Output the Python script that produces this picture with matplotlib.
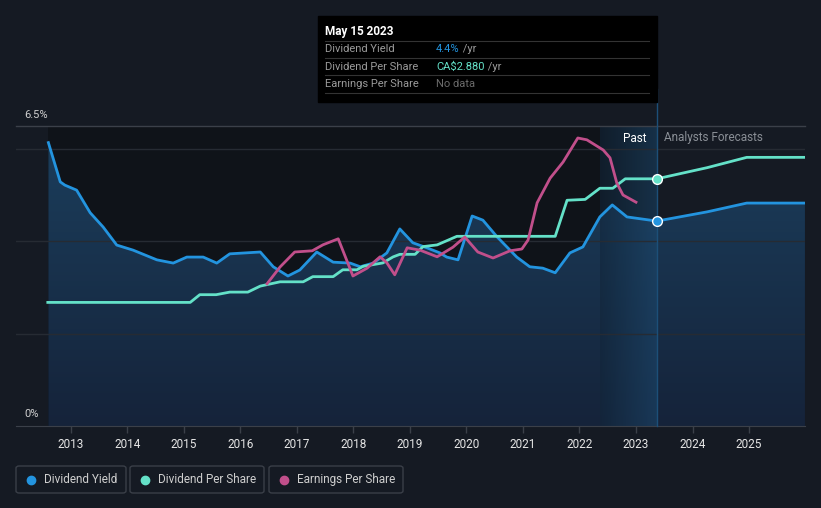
import numpy as np
import matplotlib
matplotlib.use("Agg")
import matplotlib.pyplot as plt
from matplotlib.colors import LinearSegmentedColormap
from matplotlib.patches import Rectangle, FancyBboxPatch
from matplotlib.lines import Line2D

plt.rcParams['font.family'] = ['Roboto', 'DejaVu Sans']

# dividend yield (%), decimal years
dy_year = [2012.60, 2012.81, 2012.89, 2013.10, 2013.34, 2013.57, 2013.81, 2014.10, 2014.52,
           2014.81, 2015.05, 2015.34, 2015.58, 2015.81, 2016.35, 2016.58, 2016.84, 2017.05,
           2017.35, 2017.64, 2017.94, 2018.12, 2018.35, 2018.59, 2018.82, 2019.05, 2019.30,
           2019.53, 2019.65, 2019.85, 2020.10, 2020.29, 2020.54, 2020.89, 2021.12, 2021.35,
           2021.57, 2021.83, 2022.06, 2022.36, 2022.58, 2022.84, 2023.37, 2024.26, 2024.96,
           2025.99]
dy_val = [6.14, 5.29, 5.22, 5.11, 4.62, 4.31, 3.92, 3.81, 3.60,
          3.53, 3.66, 3.66, 3.53, 3.73, 3.77, 3.45, 3.25, 3.38,
          3.77, 3.55, 3.53, 3.45, 3.53, 3.75, 4.27, 3.97, 3.86,
          3.75, 3.66, 3.60, 4.55, 4.46, 4.10, 3.66, 3.45, 3.42,
          3.32, 3.75, 3.88, 4.53, 4.79, 4.53, 4.44, 4.64, 4.83,
          4.83]

# dividend per share (CA$)
dps_year = [2012.59, 2015.11, 2015.28, 2015.57, 2015.81, 2016.13, 2016.35, 2016.70, 2017.11,
            2017.28, 2017.64, 2017.81, 2018.06, 2018.17, 2018.52, 2018.70, 2018.82, 2019.09,
            2019.23, 2019.48, 2019.83, 2021.57, 2021.78, 2022.10, 2022.36, 2022.59, 2022.81,
            2023.37, 2024.26, 2024.96, 2025.99]
dps_val = [1.44, 1.44, 1.53, 1.53, 1.56, 1.56, 1.63, 1.68, 1.68,
           1.74, 1.74, 1.82, 1.82, 1.86, 1.90, 1.97, 2.00, 2.00,
           2.09, 2.11, 2.21, 2.21, 2.63, 2.64, 2.77, 2.77, 2.88,
           2.88, 3.01, 3.13, 3.13]

# earnings per share (CA$)
eps_year = [2016.47, 2016.70, 2016.96, 2017.27, 2017.46, 2017.73, 2017.99, 2018.24, 2018.47,
            2018.59, 2018.73, 2018.95, 2019.18, 2019.48, 2019.76, 2019.97, 2020.20, 2020.47,
            2020.77, 2020.98, 2021.09, 2021.25, 2021.48, 2021.71, 2021.97, 2022.13, 2022.42,
            2022.54, 2022.66, 2022.77, 2023.00]
eps_val = [2.37, 2.65, 2.90, 2.92, 3.02, 3.12, 2.50, 2.63, 2.82,
           2.72, 2.52, 2.97, 2.93, 2.82, 2.98, 3.15, 2.90, 2.80,
           2.92, 2.95, 3.10, 3.72, 4.13, 4.40, 4.80, 4.77, 4.60,
           4.47, 4.05, 3.85, 3.73]

years = list(range(2013, 2026))
now = 2023.37
past_start = 2022.36

BG = '#151a23'
BLUE = '#2394df'
TEAL = '#64e1c8'
PINK = '#c14f8b'

fig = plt.figure(figsize=(8.21, 5.08), dpi=100, facecolor=BG)
ax = fig.add_axes([16 / 821, 1 - 426 / 508, 789 / 821, 300 / 508])
ax.set_facecolor(BG)
xlim = (2012.027, 2025.991)

ax.axvspan(dy_year[0], now, color='#0f1319', zorder=0, lw=0)

# gradient fill under dividend yield
poly = ax.fill_between(dy_year, dy_val, 0, color='none', lw=0)
cmap = LinearSegmentedColormap.from_list('fillgrad', ['#15233a', '#1b3e5c'])
grad = np.linspace(0, 1, 256).reshape(-1, 1)
im = ax.imshow(grad, extent=[dy_year[0], dy_year[-1], 0, 6.3], aspect='auto',
               cmap=cmap, origin='lower', zorder=1)
im.set_clip_path(poly.get_paths()[0], transform=ax.transData)

# past highlight band
band = LinearSegmentedColormap.from_list('band', ['#12263a', '#1d4a70'])
hgrad = np.linspace(0, 1, 256).reshape(1, -1)
ax.imshow(hgrad, extent=[past_start, now, 0, 6.5], aspect='auto', cmap=band,
          alpha=0.55, zorder=1.5)

for g in [2, 4, 6]:
    ax.axhline(g, color='#262b33', lw=1, zorder=2)
ax.axhline(6.5, color='#3b4049', lw=1, zorder=2, clip_on=False)

# current-date line
ax.plot([now, now], [0, 7.3], color='#1c4f78', lw=1, zorder=3, clip_on=False)

ax.plot(dy_year, dy_val, color=BLUE, lw=2, zorder=5, solid_joinstyle='round')
ax.plot([now], [4.44], 'o', color=BLUE, ms=7, mec='white', mew=1, zorder=6)

ax.set_xlim(*xlim)
ax.set_ylim(0, 6.5)
for s in ['top', 'right', 'left']:
    ax.spines[s].set_visible(False)
ax.spines['bottom'].set_color('#3b4049')
ax.set_yticks([])
ax.set_xticks(years)
ax.set_xticklabels([str(y) for y in years])
ax.tick_params(axis='x', colors='#3b4049', labelcolor='#e6e6e6', labelsize=8.5,
               length=5, width=1, pad=4)

ax2 = ax.twinx()
ax2.plot(dps_year, dps_val, color=TEAL, lw=2, zorder=5, solid_joinstyle='round')
ax2.plot([now], [2.88], 'o', color=TEAL, ms=7, mec='white', mew=1, zorder=6)
ax2.set_ylim(0, 300 / 85.83)

ax3 = ax.twinx()
ax3.plot(eps_year, eps_val, color=PINK, lw=2, zorder=5, solid_joinstyle='round')
ax3.set_ylim(0, 5.0)

for a in (ax2, ax3):
    a.set_xlim(*xlim)
    a.axis('off')

# y labels
fig.text(24 / 821, 1 - 115 / 508, '6.5%', color='#d0d0d0', fontsize=8, va='center')
fig.text(24 / 821, 1 - 414 / 508, '0%', color='#d0d0d0', fontsize=8, va='center')

fig.text(647 / 821, 1 - 138 / 508, 'Past', color='white', fontsize=8.5, va='center', ha='right')
fig.text(664 / 821, 1 - 138 / 508, 'Analysts Forecasts', color='#8a8f96', fontsize=8.5, va='center')

# tooltip
fig.add_artist(Rectangle((318 / 821, 1 - 102 / 508), 339 / 821, 86 / 508,
                         transform=fig.transFigure, color='black', zorder=10))
fig.text(325 / 821, 1 - 31 / 508, 'May 15 2023', color='white', fontsize=8.5,
         fontweight='bold', va='center', zorder=11)
for yy in [41, 58, 75, 93]:
    fig.add_artist(Line2D([325 / 821, 649 / 821], [1 - yy / 508, 1 - yy / 508],
                          color='#333333', lw=0.8, zorder=11))
rows = [('Dividend Yield', '4.4%', BLUE, ' /yr'),
        ('Dividend Per Share', 'CA$2.880', TEAL, ' /yr'),
        ('Earnings Per Share', 'No data', '#6b6b6b', '')]
for i, (lab, val, col, suf) in enumerate(rows):
    yy = 1 - (49 + 17.5 * i) / 508
    fig.text(325 / 821, yy, lab, color='#9a9a9a', fontsize=8, va='center', zorder=11)
    t = fig.text(436 / 821, yy, val, color=col, fontsize=8, va='center', zorder=11)
    if suf:
        fig.canvas.draw()
        bb = t.get_window_extent()
        fig.text(bb.x1 / 821, yy, suf, color='#9a9a9a', fontsize=8, va='center', zorder=11)

# legend boxes
legend = [('Dividend Yield', BLUE, 16, 126), ('Dividend Per Share', TEAL, 130, 264),
          ('Earnings Per Share', PINK, 269, 403)]
for lab, col, x0, x1 in legend:
    fig.add_artist(FancyBboxPatch((x0 / 821, 1 - 493 / 508), (x1 - x0) / 821, 27 / 508,
                                  boxstyle='round,pad=0,rounding_size=0.004',
                                  transform=fig.transFigure, fc='none', ec='#3a3f48', lw=1))
    fig.add_artist(Line2D([(x0 + 15) / 821], [1 - 479.5 / 508], marker='o', ms=6,
                          color=col, lw=0))
    fig.text((x0 + 28) / 821, 1 - 479.5 / 508, lab, color='#cfcfcf', fontsize=8.5, va='center')

fig.savefig('out.png', dpi=100, facecolor=BG)
